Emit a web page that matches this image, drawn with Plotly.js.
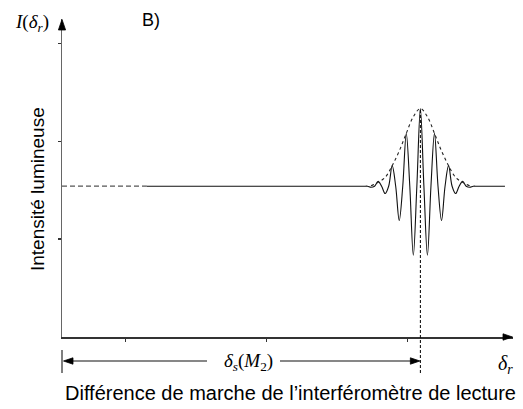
<!DOCTYPE html>
<html>
<head>
<meta charset="utf-8">
<script src="https://cdn.plot.ly/plotly-3.0.1.min.js"></script>
<style>html,body{margin:0;padding:0;background:#fff;}#chart{width:523px;height:409px;}</style>
</head>
<body>
<div id="chart"></div>
<script>
// ---- data ----
const xRange = [0.548, 3.747];
const yRange = [0, 3.248];
const xTicks = [1, 2, 3];
const yTicks = [1, 2, 3];
const fringeCenter = 3.09;

const dashX = [0.548, 1.15];
const dashY = [1.54, 1.54];

const fringeX = [1.15, 2.64, 2.69, 2.715, 2.74, 2.765, 2.79, 2.815, 2.84, 2.865, 2.89, 2.915, 2.94, 2.965, 2.99, 3.015, 3.04, 3.065,
                 3.09,
                 3.115, 3.14, 3.165, 3.19, 3.215, 3.24, 3.265, 3.29, 3.315, 3.34, 3.365, 3.39, 3.415, 3.44, 3.465, 3.49, 3.54, 3.69];
const fringeY = [1.54, 1.54, 1.54, 1.54, 1.53, 1.54, 1.59, 1.54, 1.465, 1.54, 1.75, 1.54, 1.19, 1.54, 2.08, 1.54, 0.835, 1.54,
                 2.333,
                 1.54, 0.835, 1.54, 2.08, 1.54, 1.19, 1.54, 1.75, 1.54, 1.465, 1.54, 1.59, 1.54, 1.53, 1.54, 1.54, 1.54, 1.54];

const envX = [2.74, 2.79, 2.84, 2.89, 2.94, 2.99, 3.04, 3.09, 3.14, 3.19, 3.24, 3.29, 3.34, 3.39, 3.44];
const envY = [1.545, 1.58, 1.63, 1.75, 1.90, 2.08, 2.25, 2.333, 2.25, 2.08, 1.90, 1.75, 1.63, 1.58, 1.545];

// ---- layout geometry ----
const W = 523, H = 409;
const M = {l: 62, r: 10, t: 19, b: 72};
const L = M.l, R = W - M.r, T = M.t, B = H - M.b;
const PW = R - L, PH = B - T;
const fx = px => (px - L) / PW;
const fy = py => (B - py) / PH;
const dx2p = x => (x - xRange[0]) / (xRange[1] - xRange[0]);
const dy2p = y => (y - yRange[0]) / (yRange[1] - yRange[0]);

const cP = dx2p(fringeCenter);
const cPx = L + cP * PW;
const peakP = dy2p(Math.max(...fringeY));

function r4(v) { return Math.round(v * 100000) / 100000; }
function tri(tipX, tipY, dirX, dirY, len, half) {
  const bx = tipX - dirX * len, by = tipY - dirY * len;
  const nx = -dirY, ny = dirX;
  const p1 = [bx + nx * half, by + ny * half];
  const p2 = [bx - nx * half, by - ny * half];
  return 'M' + r4(fx(p1[0])) + ',' + r4(fy(p1[1])) + 'L' + r4(fx(tipX)) + ',' + r4(fy(tipY)) + 'L' + r4(fx(p2[0])) + ',' + r4(fy(p2[1])) + 'Z';
}
function head(path) {
  return {type: 'path', xref: 'paper', yref: 'paper', layer: 'above', path: path, fillcolor: '#000000', opacity: 1, line: {color: '#000000', width: 0.8}};
}

const serif = 'Liberation Serif, Times New Roman, serif';
const sans = 'Liberation Sans, Arial, sans-serif';

const traces = [
  {x: dashX, y: dashY, mode: 'lines', line: {color: '#555', width: 1.2, dash: '5px,3px'}, hoverinfo: 'skip', showlegend: false},
  {x: fringeX, y: fringeY, mode: 'lines', line: {color: '#111', width: 1.1, shape: 'spline', smoothing: 1}, hoverinfo: 'skip', showlegend: false},
  {x: envX, y: envY, mode: 'lines', line: {color: '#222', width: 1.1, dash: 'dot', shape: 'spline', smoothing: 1}, hoverinfo: 'skip', showlegend: false}
];

const axisCommon = {showgrid: false, zeroline: false, showticklabels: false, fixedrange: true};

function txt(px, py, text, font, extra) {
  return Object.assign({xref: 'paper', yref: 'paper', x: fx(px), y: fy(py), xanchor: 'center', yanchor: 'middle',
    text: text, showarrow: false, font: font}, extra || {});
}

const layout = {
  width: W, height: H,
  margin: M,
  paper_bgcolor: '#fff', plot_bgcolor: '#fff',
  showlegend: false,
  xaxis: Object.assign({}, axisCommon, {range: xRange, showline: true, linecolor: '#333', linewidth: 1.5,
    ticks: 'outside', ticklen: 3, tickwidth: 1, tickcolor: '#333', tickmode: 'array', tickvals: xTicks}),
  xaxis2: Object.assign({}, axisCommon, {range: xRange, overlaying: 'x', anchor: 'y', showline: false,
    ticks: 'inside', ticklen: 3, tickwidth: 1, tickcolor: '#333', tickmode: 'array', tickvals: xTicks}),
  yaxis: Object.assign({}, axisCommon, {range: yRange, showline: true, linecolor: '#666', linewidth: 1.5,
    ticks: 'outside', ticklen: 3, tickwidth: 1.2, tickcolor: '#333', tickmode: 'array', tickvals: yTicks}),
  yaxis2: Object.assign({}, axisCommon, {range: yRange, overlaying: 'y', anchor: 'x', showline: false,
    ticks: 'inside', ticklen: 3, tickwidth: 1.2, tickcolor: '#333', tickmode: 'array', tickvals: yTicks}),
  shapes: [
    head(tri(62, 19.5, 0, -1, 10.5, 3.6)),
    head(tri(512.5, 337, 1, 0, 9.5, 3.2)),
    {type: 'line', xref: 'paper', yref: 'paper', x0: cP, x1: cP, y0: fy(373), y1: peakP, line: {color: '#000', width: 1, dash: '3px,2px'}},
    {type: 'line', xref: 'paper', yref: 'paper', x0: 0, x1: 0, y0: fy(350), y1: fy(373), line: {color: '#555', width: 1.5}},
    {type: 'line', xref: 'paper', yref: 'paper', x0: fx(72), x1: fx(207), y0: fy(361), y1: fy(361), line: {color: '#111', width: 1.2}},
    {type: 'line', xref: 'paper', yref: 'paper', x0: fx(280), x1: fx(cPx - 9), y0: fy(361), y1: fy(361), line: {color: '#111', width: 1.2}},
    head(tri(63.5, 361, -1, 0, 9.5, 3.2)),
    head(tri(cPx - 0.5, 361, 1, 0, 9.5, 3.2))
  ],
  annotations: [
    txt(151, 20, 'B)', {family: sans, size: 18, color: '#000'}),
    txt(32, 23, '<i>I</i>(<i>δ<sub>r</sub></i>)', {family: serif, size: 19, color: '#000'}),
    txt(37, 189, 'Intensité lumineuse', {family: sans, size: 19, color: '#000'}, {textangle: -90}),
    txt(290, 393, 'Différence de marche de l’interféromètre de lecture', {family: sans, size: 20, color: '#000'}),
    txt(248, 362, '<i>δ<sub>s</sub></i>(<i>M</i><sub>2</sub>)', {family: serif, size: 19, color: '#000'}),
    txt(505, 364, '<i>δ<sub>r</sub></i>', {family: serif, size: 20, color: '#000'})
  ]
};

Plotly.newPlot('chart', traces, layout, {displayModeBar: false, staticPlot: true});
</script>
</body>
</html>
